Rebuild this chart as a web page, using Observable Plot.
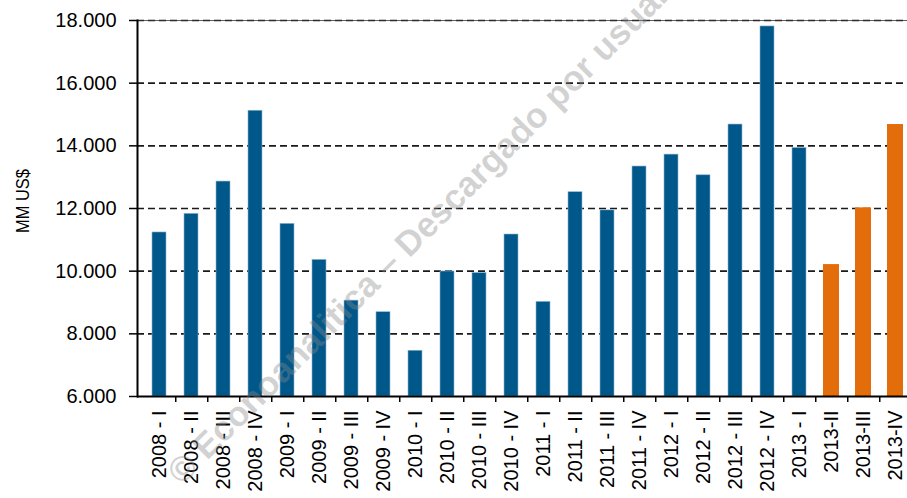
<!DOCTYPE html>
<html>
<head>
<meta charset="utf-8">
<script src="https://cdn.jsdelivr.net/npm/d3@7"></script>
<script src="https://cdn.jsdelivr.net/npm/@observablehq/plot@0.6"></script>
<style>
  html, body { margin: 0; padding: 0; background: #fff; overflow: hidden; }
  #chart svg { max-width: none !important; display: block; }
</style>
</head>
<body>
<div id="chart"></div>
<script>
const quarters = [
  "2008 - I", "2008 - II", "2008 - III", "2008 - IV",
  "2009 - I", "2009 - II", "2009 - III", "2009 - IV",
  "2010 - I", "2010 - II", "2010 - III", "2010 - IV",
  "2011 - I", "2011 - II", "2011 - III", "2011 - IV",
  "2012 - I", "2012 - II", "2012 - III", "2012 - IV",
  "2013 - I", "2013-II", "2013-III", "2013-IV"
];
const values = [
  11235, 11830, 12860, 15120,
  11510, 10360, 9060, 8690,
  7460, 9990, 9940, 11170,
  9020, 12520, 11940, 13340,
  13720, 13060, 14680, 17810,
  13930, 10210, 12020, 14680
];
const kind = [
  "real", "real", "real", "real",
  "real", "real", "real", "real",
  "real", "real", "real", "real",
  "real", "real", "real", "real",
  "real", "real", "real", "real",
  "real", "estimado", "estimado", "estimado"
];
const yTicks = [6000, 8000, 10000, 12000, 14000, 16000, 18000];
const yTitle = "MM US$";
const watermark = "© Econoanalitica – Descargado por usuario";

const data = quarters.map((q, i) => ({q, v: values[i], k: kind[i]}));
const fmt = d3.formatLocale({decimal: ",", thousands: ".", grouping: [3], currency: ["$", ""]}).format(",d");
const base = yTicks[0];
const font = "'Liberation Sans', Arial, sans-serif";

const chart = Plot.plot({
  width: 920,
  height: 498,
  marginLeft: 137,
  marginRight: 3,
  marginTop: 20,
  marginBottom: 102,
  style: {fontFamily: font, background: "#fff", overflow: "visible"},
  x: {domain: quarters, paddingInner: 0.57, paddingOuter: 0.285, label: null},
  y: {domain: [yTicks[0], yTicks[yTicks.length - 1]], label: null},
  marks: [
    Plot.ruleY(yTicks.slice(1), {stroke: "#1a1a1a", strokeWidth: 1.6, strokeDasharray: "7,4"}),
    Plot.ruleY([yTicks[yTicks.length - 1]], {stroke: "#333", strokeWidth: 0.8}),
    Plot.barY(data.filter(d => d.k === "real"), {x: "q", y1: base, y2: "v", fill: "#00578a", stroke: "#8fb5d0", strokeWidth: 0.6}),
    Plot.barY(data.filter(d => d.k === "estimado"), {x: "q", y1: base, y2: "v", fill: "#e46d0b", insetLeft: -1, insetRight: -1}),
    Plot.ruleY([base], {stroke: "#000", strokeWidth: 2}),
    Plot.frame({anchor: "left", stroke: "#000", strokeWidth: 2}),
    Plot.axisY({ticks: yTicks, tickFormat: fmt, tickSize: 8, tickPadding: 13, fontSize: 20, stroke: "#000", strokeWidth: 1.5, fill: "#000"}),
    Plot.axisX({tickSize: 6, tickFormat: null, dx: 16.25, stroke: "#000", strokeWidth: 1.5}),
    Plot.axisX({tickSize: 0, tickPadding: 14, tickRotate: -90, fontSize: 20, fill: "#000"})
  ]
});

const svg = d3.select(chart);
svg.append("text")
  .attr("transform", "translate(22,201) rotate(-90)")
  .attr("text-anchor", "middle")
  .attr("dominant-baseline", "central")
  .attr("font-family", font)
  .attr("font-size", 19)
  .attr("textLength", 64)
  .attr("lengthAdjust", "spacingAndGlyphs")
  .attr("fill", "#000")
  .text(yTitle);

svg.append("text")
  .attr("transform", "translate(182,486) rotate(-45)")
  .attr("text-anchor", "start")
  .attr("font-family", font)
  .attr("font-weight", "bold")
  .attr("font-size", 35)
  .attr("fill", "#888")
  .attr("fill-opacity", 0.38)
  .text(watermark);

document.getElementById("chart").appendChild(chart);
</script>
</body>
</html>
